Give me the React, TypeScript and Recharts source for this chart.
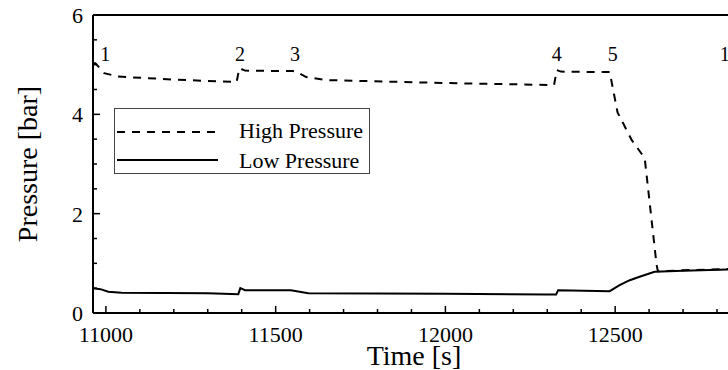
import React from 'react';
import { LineChart, Line, XAxis, YAxis, ReferenceLine, ReferenceDot, Legend } from 'recharts';

const FONT = "'Liberation Serif', 'Times New Roman', serif";

// high pressure (dashed) trace, time [s] / pressure [bar]
const highTime = [10962, 10969, 10995, 11036, 11200, 11385, 11393, 11410, 11550, 11560, 11590, 11650, 12000, 12320, 12328, 12340, 12484, 12507, 12549, 12587, 12622, 12626, 12700, 12853];
const highPressure = [5.03, 5.03, 4.83, 4.76, 4.70, 4.65, 4.93, 4.88, 4.87, 4.86, 4.75, 4.69, 4.63, 4.59, 4.89, 4.86, 4.85, 4.04, 3.48, 3.12, 0.97, 0.84, 0.86, 0.89];

// low pressure (solid) trace
const lowTime = [10962, 10984, 11007, 11046, 11300, 11390, 11396, 11410, 11545, 11596, 12000, 12300, 12326, 12332, 12484, 12513, 12543, 12572, 12616, 12700, 12853];
const lowPressure = [0.50, 0.48, 0.43, 0.41, 0.40, 0.38, 0.50, 0.46, 0.46, 0.40, 0.39, 0.37, 0.37, 0.46, 0.44, 0.56, 0.66, 0.73, 0.83, 0.85, 0.88];

// numbered event markers above the curves
const markerNames = ['1', '2', '3', '4', '5', '1'];
const markerTime = [10998, 11395, 11557, 12328, 12493, 12823];
const markerLevel = 5.22;

const xTicks = [11000, 11100, 11200, 11300, 11400, 11500, 11600, 11700, 11800, 11900, 12000, 12100, 12200, 12300, 12400, 12500, 12600, 12700, 12800];
const xLabels = [11000, 11500, 12000, 12500];
const yTicks = [0, 0.5, 1, 1.5, 2, 2.5, 3, 3.5, 4, 4.5, 5, 5.5, 6];
const yLabels = [0, 2, 4, 6];

const highData = highTime.map((t, i) => ({ t, p: highPressure[i] }));
const lowData = lowTime.map((t, i) => ({ t, p: lowPressure[i] }));

function XTick({ x, y, payload }: any) {
  const major = xLabels.includes(payload.value);
  return (
    <g>
      <line x1={x} x2={x} y1={y} y2={y - (major ? 7 : 4)} stroke="#000" strokeWidth={1.5} />
      {major && (
        <text x={x} y={y + 29} textAnchor="middle" fontSize={22} fontFamily={FONT} fill="#000">{payload.value}</text>
      )}
    </g>
  );
}

function YTick({ x, y, payload }: any) {
  const major = yLabels.includes(payload.value);
  return (
    <g>
      <line x1={x} x2={x + (major ? 7 : 4)} y1={y} y2={y} stroke="#000" strokeWidth={1.5} />
      {major && (
        <text x={x - 10} y={y + 8} textAnchor="end" fontSize={22} fontFamily={FONT} fill="#000">{payload.value}</text>
      )}
    </g>
  );
}

function LegendBox() {
  return (
    <svg width={256} height={66} style={{ display: 'block' }}>
      <rect x={0.5} y={0.5} width={255} height={65} fill="#fff" stroke="#444" strokeWidth={1} />
      <line x1={3} x2={104} y1={24} y2={24} stroke="#000" strokeWidth={2} strokeDasharray="8 7" />
      <text x={125} y={30} fontSize={22} fontFamily={FONT} fill="#000">High Pressure</text>
      <line x1={3} x2={104} y1={52} y2={52} stroke="#000" strokeWidth={2} />
      <text x={125} y={60} fontSize={22} fontFamily={FONT} fill="#000">Low Pressure</text>
    </svg>
  );
}

export default function App() {
  return (
    <div style={{ position: 'absolute', left: 0, top: 0, width: 728, height: 370, overflow: 'hidden', background: '#fff' }}>
      <LineChart width={740} height={380} margin={{ top: 15, right: 5, bottom: 0, left: 0 }}>
        <XAxis
          type="number"
          dataKey="t"
          domain={[10962, 12853]}
          allowDataOverflow
          ticks={xTicks}
          interval={0}
          height={67}
          tickSize={0}
          tickMargin={0}
          tickLine={false}
          axisLine={{ stroke: '#000', strokeWidth: 2 }}
          tick={<XTick />}
          label={(props: any) => {
            const vb = props.viewBox;
            return (
              <text x={vb.x + vb.width / 2} y={vb.y + 52} textAnchor="middle" fontSize={28} fontFamily={FONT} fill="#000">Time [s]</text>
            );
          }}
        />
        <YAxis
          type="number"
          domain={[0, 6]}
          allowDataOverflow
          ticks={yTicks}
          interval={0}
          width={93}
          tickSize={0}
          tickMargin={0}
          tickLine={false}
          axisLine={{ stroke: '#000', strokeWidth: 2 }}
          tick={<YTick />}
          label={(props: any) => {
            const vb = props.viewBox;
            const cy = vb.y + vb.height / 2;
            return (
              <text x={37} y={cy} transform={`rotate(-90, 37, ${cy})`} textAnchor="middle" fontSize={28} fontFamily={FONT} fill="#000">Pressure [bar]</text>
            );
          }}
        />
        <ReferenceLine y={6} stroke="#000" strokeWidth={2} />
        <Line data={highData} dataKey="p" type="linear" stroke="#000" strokeWidth={2} strokeDasharray="8 7" dot={false} isAnimationActive={false} name="High Pressure" />
        <Line data={lowData} dataKey="p" type="linear" stroke="#000" strokeWidth={2} dot={false} isAnimationActive={false} name="Low Pressure" />
        {markerNames.map((name, i) => (
          <ReferenceDot
            key={i}
            x={markerTime[i]}
            y={markerLevel}
            r={0}
            ifOverflow="visible"
            shape={(p: any) => (
              <text x={p.cx} y={p.cy + 7} textAnchor="middle" fontSize={20} fontFamily={FONT} fill="#000">{name}</text>
            )}
          />
        ))}
        <Legend
          layout="vertical"
          align="center"
          verticalAlign="middle"
          content={() => <LegendBox />}
          wrapperStyle={{ left: 114, top: 108, width: 256, height: 66 }}
        />
      </LineChart>
    </div>
  );
}
